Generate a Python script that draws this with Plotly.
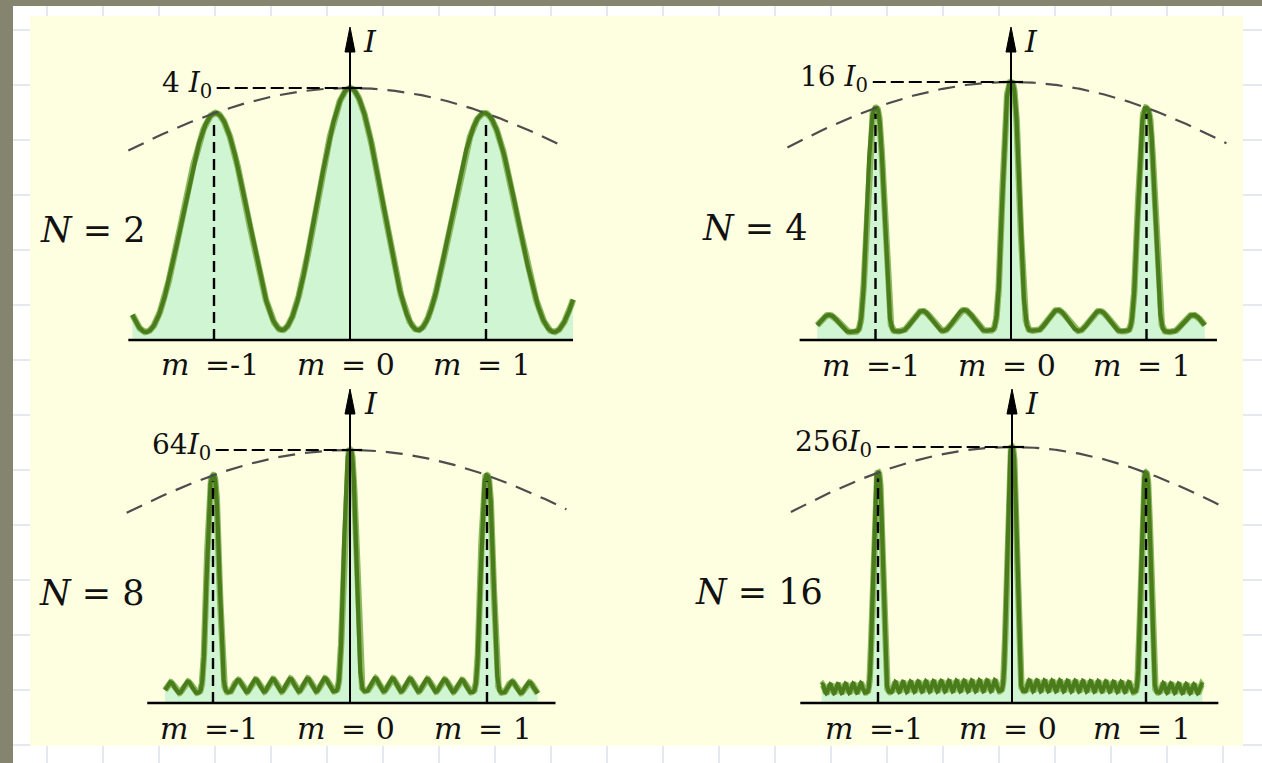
import numpy as np
import plotly.graph_objects as go

W, H = 1262, 763

# ---------------- data ----------------
slit_counts = [2, 4, 8, 16]
peak_labels = ["4\u00a0<i>I</i><sub>0</sub>", "16\u00a0<i>I</i><sub>0</sub>",
               "64<i>I</i><sub>0</sub>", "256<i>I</i><sub>0</sub>"]
order_positions = [-1, 0, 1]
order_labels = ["<i>m</i>\u00a0\u2009=-1", "<i>m</i>\u00a0\u2009=\u00a00", "<i>m</i>\u00a0\u2009=\u00a01"]
n_labels = ["<i>N</i>\u00a0=\u00a02", "<i>N</i>\u00a0=\u00a04", "<i>N</i>\u00a0=\u00a08", "<i>N</i>\u00a0=\u00a016"]
side_peak_ratio = 0.90                        # height of m=±1 peaks relative to m=0
ripple_levels = [0.0, 0.085, 0.055, 0.045]    # drawn height of secondary maxima
floor_levels = [0.04, 0.036, 0.046, 0.046]    # drawn height of the minima
peak_widths = [None, 0.075, 0.055, 0.044]     # drawn half-width of principal maxima (orders)
first_minima = [None, 0.19, 0.12, 0.10]       # distance of first minimum from a principal maximum
curve_spans = [(-1.60, 1.64), (-1.43, 1.43), (-1.35, 1.37), (-1.42, 1.42)]
envelope_spans = [(-1.63, 1.58), (-1.65, 1.59), (-1.63, 1.58), (-1.65, 1.59)]
axis_spans = [(-1.63, 1.64), (-1.56, 1.52), (-1.48, 1.50), (-1.58, 1.54)]
peak_label_ends = [-1.0, -1.04, -1.0, -1.03]

# ---------------- panel geometry (pixels) ----------------
panels = [
    dict(cx=350, sp=136.0, base=340, unit=252, dom=(20, 645, 6, 379), top=27),
    dict(cx=1011, sp=135.5, base=340, unit=258, dom=(660, 1256, 6, 379), top=27),
    dict(cx=350, sp=137.0, base=703, unit=253, dom=(20, 645, 381, 758), top=389),
    dict(cx=1012, sp=134.0, base=703, unit=256, dom=(660, 1256, 381, 758), top=389),
]

# envelope parameter from side peak ratio: sinc^2(b) = ratio
lo, hi = 1e-6, 2.0
for _ in range(80):
    mid = 0.5 * (lo + hi)
    if (np.sin(mid) / mid) ** 2 > side_peak_ratio:
        lo = mid
    else:
        hi = mid
b_env = 0.5 * (lo + hi)


def envelope(m):
    x = b_env * np.asarray(m, dtype=float)
    out = np.ones_like(x)
    nz = np.abs(x) > 1e-12
    out[nz] = (np.sin(x[nz]) / x[nz]) ** 2
    return out


def intensity(m, N, r, c, w, d0):
    phi = np.pi * m
    d = np.abs(m - np.round(m))          # distance to nearest principal maximum
    if w is None:
        s = np.sin(phi)
        num = np.sin(N * phi)
        g = np.ones_like(m)
        nz = np.abs(s) > 1e-9
        g[nz] = num[nz] ** 2 / (N ** 2 * s[nz] ** 2)
        rip = np.zeros_like(m)
    else:
        g = np.exp(-(d / w) ** 3)
        period = (1 - 2 * d0) / (N - 2)  # N-2 secondary maxima between principal ones
        rip = np.where(d >= d0, r * np.sin(np.pi * (d - d0) / period) ** 2, 0.0)
    f = g + rip * (1 - g)
    return envelope(m) * (c + (1 - c) * f)


fig = go.Figure()
layout_axes = {}
annotations = []
shapes = []

GREEN = "#4a7c1c"
GREEN_EDGE = "#8cba60"
FILL = "#d0f5d2"
FONT = "DejaVu Serif"

for i, (N, pnl) in enumerate(zip(slit_counts, panels)):
    k = "" if i == 0 else str(i + 1)
    xa, ya = "x" + k, "y" + k
    L, R, T, B = pnl["dom"]
    cx, sp, base, unit = pnl["cx"], pnl["sp"], pnl["base"], pnl["unit"]
    xr = [(L - cx) / sp, (R - cx) / sp]
    yr = [(base - B) / unit, (base - T) / unit]
    ax_common = dict(visible=False, showgrid=False, zeroline=False, fixedrange=True)
    layout_axes["xaxis" + k] = dict(domain=[L / W, R / W], range=xr, anchor=ya, **ax_common)
    layout_axes["yaxis" + k] = dict(domain=[1 - B / H, 1 - T / H], range=yr, anchor=xa, **ax_common)

    m = np.linspace(curve_spans[i][0], curve_spans[i][1], 5000)
    I = intensity(m, N, ripple_levels[i], floor_levels[i], peak_widths[i], first_minima[i])

    fig.add_trace(go.Scatter(x=m, y=I, xaxis=xa, yaxis=ya, mode="lines", fill="tozeroy",
                             fillcolor=FILL, line=dict(width=0), hoverinfo="skip", showlegend=False))
    fig.add_trace(go.Scatter(x=m, y=I, xaxis=xa, yaxis=ya, mode="lines",
                             line=dict(color=GREEN_EDGE, width=6.5), hoverinfo="skip", showlegend=False))
    fig.add_trace(go.Scatter(x=m, y=I, xaxis=xa, yaxis=ya, mode="lines",
                             line=dict(color=GREEN, width=4.2), hoverinfo="skip", showlegend=False))

    # envelope
    me = np.linspace(envelope_spans[i][0], envelope_spans[i][1], 400)
    fig.add_trace(go.Scatter(x=me, y=envelope(me), xaxis=xa, yaxis=ya, mode="lines",
                             line=dict(color="#4d4d4d", width=2.2, dash="17px,10px"),
                             hoverinfo="skip", showlegend=False))

    # baseline
    fig.add_trace(go.Scatter(x=list(axis_spans[i]), y=[0, 0], xaxis=xa, yaxis=ya, mode="lines",
                             line=dict(color="black", width=2.6), hoverinfo="skip", showlegend=False))

    # dashed verticals at m = ±1
    for mo in (-1, 1):
        h = float(envelope(np.array([mo]))[0])
        fig.add_trace(go.Scatter(x=[mo, mo], y=[0, h - 6 / unit], xaxis=xa, yaxis=ya, mode="lines",
                                 line=dict(color="black", width=2.4, dash="11px,6px"),
                                 hoverinfo="skip", showlegend=False))

    # dashed line from peak label to axis
    fig.add_trace(go.Scatter(x=[peak_label_ends[i] + 0.02, 0], y=[1, 1], xaxis=xa, yaxis=ya, mode="lines",
                             line=dict(color="black", width=2, dash="13px,5px"),
                             hoverinfo="skip", showlegend=False))
    # tick on axis
    fig.add_trace(go.Scatter(x=[-8 / sp, 12 / sp], y=[1, 1], xaxis=xa, yaxis=ya, mode="lines",
                             line=dict(color="black", width=2.2), hoverinfo="skip", showlegend=False))

    # vertical axis
    ytop = (base - pnl["top"]) / unit
    fig.add_trace(go.Scatter(x=[0, 0], y=[0, ytop - 15 / unit], xaxis=xa, yaxis=ya, mode="lines",
                             line=dict(color="black", width=2), hoverinfo="skip", showlegend=False))
    hw = 5.0 / sp
    yb = ytop - 25.0 / unit
    shapes.append(dict(type="path", xref=xa, yref=ya,
                       path=f"M 0,{ytop} L {-hw},{yb} L {hw},{yb} Z",
                       fillcolor="black", line=dict(color="black", width=1)))

    # texts
    annotations.append(dict(x=0.15, y=ytop - 14 / unit, xref=xa, yref=ya, text="<i>I</i>",
                            showarrow=False, font=dict(family=FONT, size=30, color="#111"),
                            xanchor="center", yanchor="middle"))
    annotations.append(dict(x=peak_label_ends[i], y=1, xref=xa, yref=ya, text=peak_labels[i],
                            showarrow=False, font=dict(family=FONT, size=28, color="#111"),
                            xanchor="right", yanchor="middle", yshift=4))
    annotations.append(dict(x=-1.89, y=0.435, xref=xa, yref=ya, text=n_labels[i],
                            showarrow=False, font=dict(family=FONT, size=35, color="#111"),
                            xanchor="center", yanchor="middle"))
    for mo, lab in zip(order_positions, order_labels):
        annotations.append(dict(x=mo - 0.03, y=-0.099, xref=xa, yref=ya, text=lab,
                                showarrow=False, font=dict(family=FONT, size=30, color="#111"),
                                xanchor="center", yanchor="middle"))

# ---------------- background: grey frame, faint grid, yellow panel ----------------
bg = []
for gx in range(47, W, 56):
    bg.append(dict(type="line", xref="paper", yref="paper", x0=gx / W, x1=gx / W, y0=0, y1=1,
                   line=dict(color="#dde2ea", width=1.5), layer="below"))
for gy in range(30, H, 55):
    bg.append(dict(type="line", xref="paper", yref="paper", x0=0, x1=1, y0=1 - gy / H, y1=1 - gy / H,
                   line=dict(color="#dde2ea", width=1.5), layer="below"))
bg.append(dict(type="rect", xref="paper", yref="paper", x0=30 / W, x1=1243 / W, y0=1 - 746 / H, y1=1 - 16 / H,
               fillcolor="#fefee0", line=dict(width=0), layer="below"))
bg.append(dict(type="rect", xref="paper", yref="paper", x0=0, x1=13 / W, y0=0, y1=1,
               fillcolor="#85856f", line=dict(width=0), layer="below"))
bg.append(dict(type="rect", xref="paper", yref="paper", x0=0, x1=1, y0=1 - 6 / H, y1=1,
               fillcolor="#85856f", line=dict(width=0), layer="below"))

fig.update_layout(
    width=W, height=H, margin=dict(l=0, r=0, t=0, b=0),
    paper_bgcolor="white", plot_bgcolor="rgba(0,0,0,0)",
    showlegend=False, shapes=bg + shapes, annotations=annotations,
    **layout_axes,
)

fig.write_html("out.html", config={"displayModeBar": False},
               post_script="document.body.style.margin='0px';document.body.style.overflow='hidden';")
